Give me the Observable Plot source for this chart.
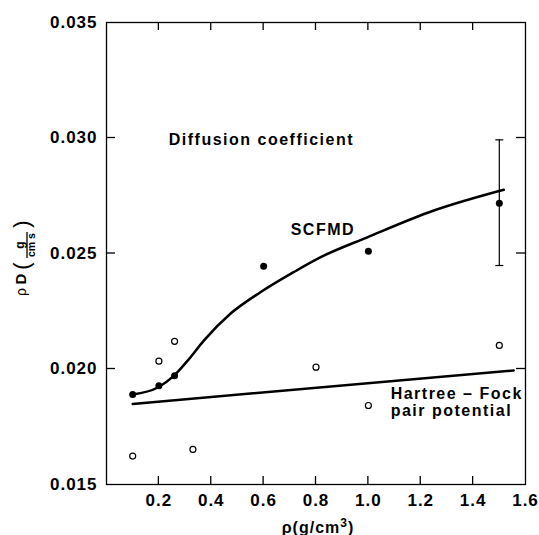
<!DOCTYPE html>
<html><head><meta charset="utf-8">
<script src="https://cdn.jsdelivr.net/npm/d3@7"></script>
<script src="https://cdn.jsdelivr.net/npm/@observablehq/plot@0.6"></script>
<style>body{margin:0;background:#fff}</style>
</head><body><div id="chart"></div>
<script>
// ---- data ----
const xTicks = [0.2, 0.4, 0.6, 0.8, 1.0, 1.2, 1.4, 1.6];
const yTicks = [0.015, 0.020, 0.025, 0.030, 0.035];
const scfmdRho = [0.1, 0.2, 0.26, 0.6, 1.0, 1.5];
const scfmdD   = [0.0189, 0.01927, 0.01971, 0.02445, 0.0251, 0.02718];
const hfRho = [0.1, 0.2, 0.26, 0.33, 0.8, 1.0, 1.5];
const hfD   = [0.01623, 0.02034, 0.0212, 0.01652, 0.02008, 0.01842, 0.02102];
const errRho = [1.5];
const errLo  = [0.02448];
const errHi  = [0.02992];
const scfmdCurveRho = [0.1, 0.196, 0.257, 0.309, 0.3725, 0.474, 0.589, 0.716, 0.818, 0.996, 1.25, 1.517];
const scfmdCurveD   = [0.0189, 0.0192, 0.0197, 0.02035, 0.02124, 0.0224, 0.02333, 0.0242, 0.02484, 0.0257, 0.02686, 0.02776];
const hfLineRho = [0.1, 1.555];
const hfLineD   = [0.01849, 0.01994];
const annotations = ["Diffusion coefficient", "SCFMD", "Hartree – Fock", "pair potential"];

// ---- tables ----
const zip = (a, b) => a.map((v, i) => ({x: v, y: b[i]}));
const scfmd = zip(scfmdRho, scfmdD);
const hf = zip(hfRho, hfD);
const curve = zip(scfmdCurveRho, scfmdCurveD);
const hfLine = zip(hfLineRho, hfLineD);
const err = errRho.map((v, i) => ({x: v, lo: errLo[i], hi: errHi[i]}));
const notes = [
  {t: annotations[0], x: 0.2377, y: 0.02993},
  {t: annotations[1], x: 0.7033, y: 0.02604},
  {t: annotations[2], x: 1.085, y: 0.01892},
  {t: annotations[3], x: 1.085, y: 0.01818}
];
const cap = {draw(ctx) { ctx.moveTo(-4, 0); ctx.lineTo(4, 0); }};
const innerX = xTicks.slice(0, -1);
const innerY = yTicks.slice(1, -1);

const W = 539, H = 535, ML = 106, MR = 14, MT = 22, MB = 51, tk = 8;

const plot = Plot.plot({
  width: W, height: H,
  marginLeft: ML, marginRight: MR, marginTop: MT, marginBottom: MB,
  x: {domain: [0, 1.6]},
  y: {domain: [0.015, 0.035]},
  style: {fontFamily: "'Liberation Sans', Arial, sans-serif", fontWeight: "bold", background: "#fff", color: "#000", letterSpacing: "1px"},
  marks: [
    Plot.frame({stroke: "#000", strokeWidth: 1.3}),
    Plot.axisX({anchor: "bottom", ticks: xTicks, tickSize: 0, tickPadding: 9, tickFormat: d => d.toFixed(1), fontSize: 17, label: null}),
    Plot.axisY({anchor: "left", ticks: yTicks, tickSize: 0, tickPadding: 9, tickFormat: d => d.toFixed(3), fontSize: 17, label: null}),
    Plot.line(curve, {x: "x", y: "y", curve: "monotone-x", stroke: "#000", strokeWidth: 2.5}),
    Plot.line(hfLine, {x: "x", y: "y", stroke: "#000", strokeWidth: 2.5}),
    Plot.ruleX(err, {x: "x", y1: "lo", y2: "hi", stroke: "#000", strokeWidth: 1.2}),
    Plot.dot(err, {x: "x", y: "lo", symbol: cap, stroke: "#000", strokeWidth: 1.2}),
    Plot.dot(err, {x: "x", y: "hi", symbol: cap, stroke: "#000", strokeWidth: 1.2}),
    Plot.dot(scfmd, {x: "x", y: "y", r: 3.5, fill: "#000", stroke: "none"}),
    Plot.dot(hf, {x: "x", y: "y", r: 3, fill: "#fff", stroke: "#000", strokeWidth: 1.2}),
    Plot.text(notes, {x: "x", y: "y", text: "t", textAnchor: "start", fontSize: 16, fontWeight: "bold", fill: "#000"})
  ]
});
document.getElementById("chart").appendChild(plot);
const svg = d3.select(plot);
svg.selectAll("g[aria-label=text] text").style("letter-spacing", "1.5px");

// inward ticks on all four sides, placed with Plot's scales
const sx = plot.scale("x"), sy = plot.scale("y");
const x0 = ML, x1 = W - MR, y0 = MT, y1 = H - MB;
const tg = svg.append("g").attr("stroke", "#000").attr("stroke-width", 1.3);
innerX.forEach(v => {
  const px = sx.apply(v);
  tg.append("line").attr("x1", px).attr("x2", px).attr("y1", y1).attr("y2", y1 - tk);
  tg.append("line").attr("x1", px).attr("x2", px).attr("y1", y0).attr("y2", y0 + tk);
});
innerY.forEach(v => {
  const py = sy.apply(v);
  tg.append("line").attr("x1", x0).attr("x2", x0 + tk + 1).attr("y1", py).attr("y2", py);
  tg.append("line").attr("x1", x1).attr("x2", x1 - tk - 1).attr("y1", py).attr("y2", py);
});

// axis titles
const xl = svg.append("text").attr("x", 318).attr("y", 533).attr("text-anchor", "middle")
  .attr("font-size", 16).attr("font-weight", "bold").attr("fill", "#000");
xl.append("tspan").text("ρ(g/cm");
xl.append("tspan").attr("font-size", 12).attr("dy", -6).text("3");
xl.append("tspan").attr("dy", 6).text(")");
const g = svg.append("g").attr("transform", "rotate(-90)").attr("fill", "#000").style("letter-spacing", "0px");
g.append("text").attr("x", -292).attr("y", 26).attr("text-anchor", "middle").attr("font-size", 14).attr("font-weight", "normal").text("ρ");
g.append("text").attr("x", -279).attr("y", 26).attr("text-anchor", "middle").attr("font-size", 15).text("D");
g.append("text").attr("x", -266).attr("y", 29).attr("text-anchor", "middle").attr("font-size", 22).attr("font-weight", "normal").text("(");
g.append("text").attr("x", -245).attr("y", 24).attr("text-anchor", "middle").attr("font-size", 12).text("g");
g.append("line").attr("x1", -258).attr("x2", -232).attr("y1", 27).attr("y2", 27).attr("stroke", "#000").attr("stroke-width", 1.3);
g.append("text").attr("x", -245).attr("y", 34.5).attr("text-anchor", "middle").attr("font-size", 10.5).text("cm s");
g.append("text").attr("x", -224).attr("y", 29).attr("text-anchor", "middle").attr("font-size", 22).attr("font-weight", "normal").text(")");
</script>
</body></html>
